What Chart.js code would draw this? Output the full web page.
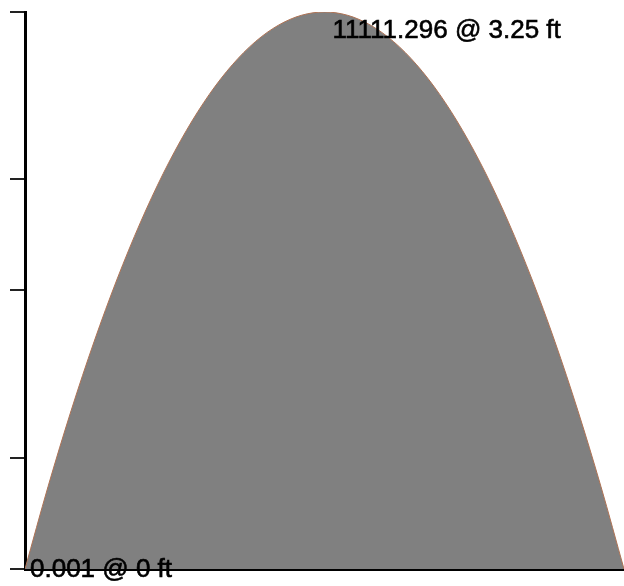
<!DOCTYPE html>
<html>
<head>
<meta charset="utf-8">
<script src="https://cdn.jsdelivr.net/npm/chart.js@4.4.1/dist/chart.umd.min.js"></script>
<style>
    html, body { margin: 0; padding: 0; background: #fff; }
    #wrap { width: 624px; height: 586px; position: relative; }
</style>
</head>
<body>
<div id="wrap"><canvas id="momentChart"></canvas></div>
<script>
// Положение по балке (фут) и изгибающий момент в этих точках
const positionsFt = [0, 0.25, 0.5, 0.75, 1, 1.25, 1.5, 1.75, 2, 2.25, 2.5, 2.75, 3, 3.25,
    3.5, 3.75, 4, 4.25, 4.5, 4.75, 5, 5.25, 5.5, 5.75, 6, 6.25, 6.5];
const momentValues = [0.001, 1644, 3156, 4537, 5786, 6903, 7890, 8744, 9468, 10059, 10520, 10848, 11046, 11111.296,
    11046, 10848, 10520, 10059, 9468, 8744, 7890, 6903, 5786, 4537, 3156, 1644, 0.001];
// Засечки на оси Y
const yTickValues = [0, 2222.26, 5555.65, 7777.91, 11111.296];

// Подписи: минимум в начале балки и максимум
const labelIndexes = [0, 13];

const chartPoints = positionsFt.map((x, i) => ({ x: x, y: momentValues[i] }));

// Плагин для подписей значений "M @ x ft"
const pointLabels = {
    id: 'pointLabels',
    afterDatasetsDraw(chart) {
        const ctx = chart.ctx;
        const xs = chart.scales.x;
        const ys = chart.scales.y;
        ctx.save();
        ctx.fillStyle = '#000';
        ctx.strokeStyle = '#000';
        ctx.lineWidth = 0.6;
        ctx.font = '26px "Liberation Sans", Arial, sans-serif';
        ctx.textAlign = 'left';
        ctx.textBaseline = 'alphabetic';
        const offsets = [[5, 8], [8, 26]];
        labelIndexes.forEach((idx, n) => {
            const px = xs.getPixelForValue(positionsFt[idx]);
            const py = ys.getPixelForValue(momentValues[idx]);
            const text = `${momentValues[idx]} @ ${positionsFt[idx]} ft`;
            ctx.fillText(text, px + offsets[n][0], py + offsets[n][1]);
            ctx.strokeText(text, px + offsets[n][0], py + offsets[n][1]);
        });
        ctx.restore();
    }
};

const ctx = document.getElementById('momentChart').getContext('2d');
const momentChart = new Chart(ctx, {
    type: 'line',
    data: {
        datasets: [{
            data: chartPoints,
            borderColor: 'rgb(175, 115, 85)',
            backgroundColor: '#808080',
            borderWidth: 1,
            fill: 'origin',
            pointRadius: 0,
            tension: 0.4,
            cubicInterpolationMode: 'monotone'
        }]
    },
    options: {
        responsive: true,
        maintainAspectRatio: false,
        animation: false,
        layout: {
            padding: { left: 10, top: 12, right: 0, bottom: 17 }
        },
        scales: {
            x: {
                type: 'linear',
                min: 0,
                max: 6.5,
                grid: { display: false, drawTicks: false },
                ticks: { display: false },
                border: { display: true, color: '#000', width: 3 }
            },
            y: {
                min: 0,
                max: 11111.296,
                afterBuildTicks: (scale) => {
                    scale.ticks = yTickValues.map(v => ({ value: v }));
                },
                grid: {
                    drawOnChartArea: false,
                    drawTicks: true,
                    tickLength: 15,
                    color: '#222',
                    lineWidth: 2
                },
                ticks: { display: false },
                border: { display: true, color: '#000', width: 3 }
            }
        },
        plugins: {
            legend: { display: false },
            tooltip: { enabled: false }
        }
    },
    plugins: [pointLabels]
});
</script>
</body>
</html>
